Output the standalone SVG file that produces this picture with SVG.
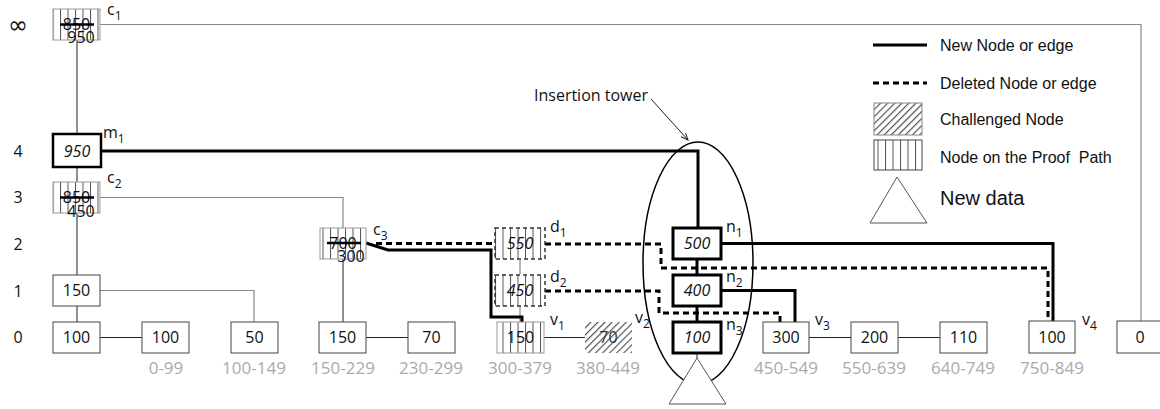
<svg xmlns="http://www.w3.org/2000/svg" width="1160" height="409" viewBox="0 0 1160 409">
<style>
  .n { font-family: "Open Sans", "DejaVu Sans", sans-serif; font-size: 16px; fill: #111; text-anchor: middle; }
  .it { font-style: italic; }
  .rng { font-family: "Open Sans", "DejaVu Sans", sans-serif; font-size: 17px; fill: #aaa; text-anchor: middle; }
  .lbl { font-family: "Open Sans", "DejaVu Sans", sans-serif; font-size: 16px; fill: #111; }
  .row { font-family: "Open Sans", "DejaVu Sans", sans-serif; font-size: 16px; fill: #111; text-anchor: middle; }
  .inf { font-family: "DejaVu Sans", sans-serif; font-size: 24px; fill: #111; text-anchor: middle; }
  .leg { font-family: "Liberation Sans", Arial, sans-serif; font-size: 16px; fill: #111; }
  .box { fill: #fff; stroke: #444; stroke-width: 1; }
  .proof { fill: url(#vlines); stroke: #999; stroke-width: 1; }
  .del { fill: url(#vlines); stroke: #333; stroke-width: 1.5; stroke-dasharray: 4 3; }
  .new { fill: #fff; stroke: #000; stroke-width: 3; }
  .thin { fill: none; stroke: #222; stroke-width: 1; }
  .gray { fill: none; stroke: #888; stroke-width: 1.2; }
  .thick { fill: none; stroke: #000; stroke-width: 3; }
  .dash { fill: none; stroke: #000; stroke-width: 3; stroke-dasharray: 6 4; }
  .strike { stroke: #000; stroke-width: 2.5; }
</style>
<defs>
  <pattern id="vlines" patternUnits="userSpaceOnUse" width="7.5" height="10">
    <rect width="7.5" height="10" fill="#fff"/>
    <line x1="0.5" y1="0" x2="0.5" y2="10" stroke="#555" stroke-width="1"/>
  </pattern>
  <pattern id="hatch" patternUnits="userSpaceOnUse" width="5" height="5" patternTransform="rotate(45)">
    <rect width="5" height="5" fill="#fff"/>
    <line x1="0.6" y1="0" x2="0.6" y2="5" stroke="#555" stroke-width="1.2"/>
  </pattern>
  <marker id="arr" markerWidth="8" markerHeight="8" refX="7" refY="4" orient="auto" markerUnits="userSpaceOnUse">
    <path d="M0,1 L7,4 L0,7" fill="none" stroke="#222" stroke-width="1"/>
  </marker>
</defs>

<g id="rows">
  <text class="inf" x="18" y="33">∞</text>
  <text class="row" x="18" y="157">4</text>
  <text class="row" x="18" y="203">3</text>
  <text class="row" x="18" y="250">2</text>
  <text class="row" x="18" y="297">1</text>
  <text class="row" x="18" y="343">0</text>
</g>

<g id="connectors">
  <path class="thin" d="M77,40 V134 M77,167 V182 M77,213 V275 M77,306 V322"/>
  <path class="gray" d="M100,24.5 H1141 V321"/>
  <path class="gray" d="M100,197.5 H343 V228"/>
  <path class="gray" d="M100,290.5 H254 V322"/>
  <path class="thin" d="M343,259 V322"/>
  <path class="gray" d="M520,260 V274 M520,307 V322"/>
  <path class="thin" d="M100,337.5 H142 M366,337.5 H408 M544,337.5 H585 M809,337.5 H851 M898,337.5 H940"/>
  <path class="thick" d="M101,151 H698 V228"/>
  <path class="thick" d="M697,259 V275 M697,306 V322"/>
  <path class="thick" d="M721,243.5 H1053 V321"/>
  <path class="thick" d="M721,290.5 H795 V322"/>
  <path class="thick" d="M366,243 L388,250 H491 V317 H522 V322"/>
  <path class="dash" d="M376,243.5 H495"/>
  <path class="dash" d="M545,244 H661 V268 H1048 V321"/>
  <path class="dash" d="M545,291 H659 V313 H780 V322"/>
  <path class="thin" d="M697,353 V358"/>
  <line x1="651" y1="99" x2="688" y2="140" stroke="#222" stroke-width="1" marker-end="url(#arr)"/>
</g>

<g id="tower">
  <ellipse cx="698" cy="263" rx="55" ry="121" fill="none" stroke="#000" stroke-width="1.5"/>
  <text class="lbl" x="591" y="101" text-anchor="middle">Insertion tower</text>
</g>

<g id="c1">
  <rect class="proof" x="53" y="9" width="47" height="31"/>
  <text class="n" x="76.5" y="30">850</text>
  <line class="strike" x1="60" y1="24.5" x2="94" y2="24.5"/>
  <text class="n" x="81" y="43" text-anchor="start">950</text>
  <text class="lbl" x="107" y="15">c<tspan font-size="12" dy="5">1</tspan></text>
</g>
<g id="m1">
  <rect x="53" y="134" width="48" height="33" fill="#fff" stroke="#000" stroke-width="2.5"/>
  <text class="n it" x="77" y="156.5">950</text>
  <text class="lbl" x="103" y="138">m<tspan font-size="12" dy="5">1</tspan></text>
</g>
<g id="c2">
  <rect class="proof" x="53" y="182" width="47" height="31"/>
  <text class="n" x="76.5" y="203">850</text>
  <line class="strike" x1="60" y1="197.5" x2="94" y2="197.5"/>
  <text class="n" x="81" y="217" text-anchor="start">450</text>
  <text class="lbl" x="107" y="183">c<tspan font-size="12" dy="5">2</tspan></text>
</g>
<g id="n150l1">
  <rect class="box" x="53" y="275" width="47" height="31"/>
  <text class="n" x="76.5" y="296">150</text>
</g>
<g id="c3">
  <rect class="proof" x="320" y="228" width="46" height="31"/>
  <text class="n" x="343" y="249">700</text>
  <line class="strike" x1="327" y1="243" x2="361" y2="243"/>
  <text class="n" x="351" y="262" text-anchor="start">300</text>
  <text class="lbl" x="373" y="235">c<tspan font-size="12" dy="5">3</tspan></text>
</g>
<g id="d1">
  <rect class="del" x="495" y="228" width="50" height="31"/>
  <text class="n it" x="520" y="249">550</text>
  <text class="lbl" x="550" y="232">d<tspan font-size="12" dy="5">1</tspan></text>
</g>
<g id="d2">
  <rect class="del" x="495" y="275" width="50" height="31"/>
  <text class="n it" x="520" y="296">450</text>
  <text class="lbl" x="550" y="282">d<tspan font-size="12" dy="5">2</tspan></text>
</g>
<g id="n1">
  <rect class="new" x="673" y="228" width="48" height="31"/>
  <text class="n it" x="697" y="249">500</text>
  <text class="lbl" x="726" y="232">n<tspan font-size="12" dy="5">1</tspan></text>
</g>
<g id="n2">
  <rect class="new" x="673" y="275" width="48" height="31"/>
  <text class="n it" x="697" y="296">400</text>
  <text class="lbl" x="726" y="282">n<tspan font-size="12" dy="5">2</tspan></text>
</g>
<g id="n3">
  <rect class="new" x="673" y="322" width="48" height="31"/>
  <text class="n it" x="697" y="343">100</text>
  <text class="lbl" x="726" y="330">n<tspan font-size="12" dy="5">3</tspan></text>
</g>
<g id="newdata">
  <polygon points="697,358 669,404 726,404" fill="#fff" stroke="#555" stroke-width="1"/>
</g>

<g id="bottom">
  <g id="b0"><rect class="box" x="53" y="322" width="47" height="31"/><text class="n" x="76.5" y="343">100</text></g>
  <g id="b1"><rect class="box" x="142" y="322" width="47" height="31"/><text class="n" x="165.5" y="343">100</text></g>
  <g id="b2"><rect class="box" x="231" y="322" width="47" height="31"/><text class="n" x="254.5" y="343">50</text></g>
  <g id="b3"><rect class="box" x="319" y="322" width="47" height="31"/><text class="n" x="342.5" y="343">150</text></g>
  <g id="b4"><rect class="box" x="408" y="322" width="47" height="31"/><text class="n" x="431.5" y="343">70</text></g>
  <g id="v1"><rect class="proof" x="497" y="322" width="47" height="31"/><text class="n" x="520.5" y="343">150</text>
    <text class="lbl" x="550" y="325">v<tspan font-size="12" dy="5">1</tspan></text></g>
  <g id="v2"><rect x="585" y="322" width="47" height="31" fill="url(#hatch)"/><text class="n" x="608.5" y="343" style="fill:#333">70</text>
    <text class="lbl" x="635" y="323">v<tspan font-size="12" dy="5">2</tspan></text></g>
  <g id="v3"><rect class="box" x="763" y="322" width="46" height="31"/><text class="n" x="786" y="343">300</text>
    <text class="lbl" x="815" y="325">v<tspan font-size="12" dy="5">3</tspan></text></g>
  <g id="b9"><rect class="box" x="851" y="322" width="47" height="31"/><text class="n" x="874.5" y="343">200</text></g>
  <g id="b10"><rect class="box" x="940" y="322" width="47" height="31"/><text class="n" x="963.5" y="343">110</text></g>
  <g id="v4"><rect class="box" x="1029" y="321" width="46" height="32"/><text class="n" x="1052" y="343">100</text>
    <text class="lbl" x="1082" y="325">v<tspan font-size="12" dy="5">4</tspan></text></g>
  <g id="b13"><rect class="box" x="1117" y="321" width="47" height="32"/><text class="n" x="1140" y="343">0</text></g>
</g>

<g id="ranges">
  <text class="rng" x="166" y="374">0-99</text>
  <text class="rng" x="254" y="374">100-149</text>
  <text class="rng" x="343" y="374">150-229</text>
  <text class="rng" x="431" y="374">230-299</text>
  <text class="rng" x="520" y="374">300-379</text>
  <text class="rng" x="608" y="374">380-449</text>
  <text class="rng" x="786" y="374">450-549</text>
  <text class="rng" x="874" y="374">550-639</text>
  <text class="rng" x="963" y="374">640-749</text>
  <text class="rng" x="1052" y="374">750-849</text>
</g>

<g id="legend">
  <line x1="873" y1="45" x2="927" y2="45" stroke="#000" stroke-width="3"/>
  <text class="leg" x="940" y="51">New Node or edge</text>
  <line x1="873" y1="83" x2="927" y2="83" stroke="#000" stroke-width="3" stroke-dasharray="6 4"/>
  <text class="leg" x="940" y="89">Deleted Node or edge</text>
  <rect x="874" y="103" width="48" height="32" fill="url(#hatch)" stroke="#888" stroke-width="1"/>
  <text class="leg" x="940" y="125">Challenged Node</text>
  <rect x="874" y="140" width="48" height="30" fill="url(#vlines)" stroke="#444" stroke-width="1"/>
  <text class="leg" x="940" y="163" xml:space="preserve">Node on the Proof  Path</text>
  <polygon points="897,177 870,223 927,223" fill="#fff" stroke="#555" stroke-width="1"/>
  <text class="leg" x="940" y="205" style="font-size:20px">New data</text>
</g>
</svg>
